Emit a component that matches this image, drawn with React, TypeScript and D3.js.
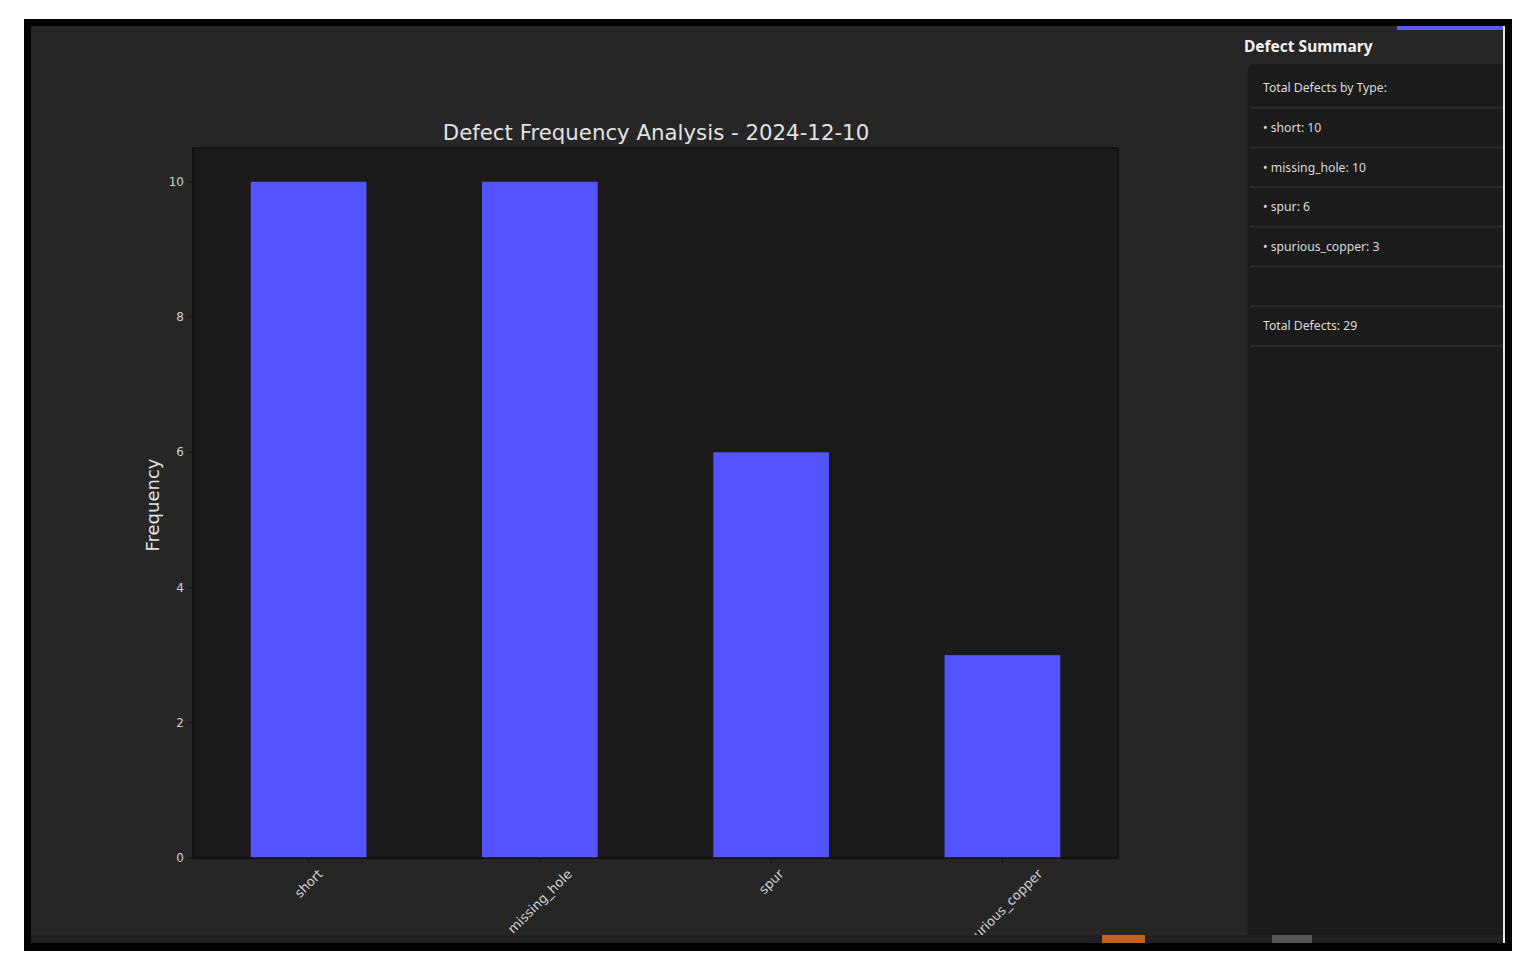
import React, { useEffect, useRef } from "react";
import * as d3 from "d3";

const categories = ["short", "missing_hole", "spur", "spurious_copper"];
const frequencies = [10, 10, 6, 3];
const yTicks = [0, 2, 4, 6, 8, 10];
const chartTitle = "Defect Frequency Analysis - 2024-12-10";
const yLabel = "Frequency";
const summaryTitle = "Defect Summary";
const summaryRows = [
  "Total Defects by Type:",
  "• short: 10",
  "• missing_hole: 10",
  "• spur: 6",
  "• spurious_copper: 3",
  "",
  "Total Defects: 29",
];

const W = 1535;
const H = 974;

export default function App() {
  const ref = useRef<SVGSVGElement | null>(null);

  useEffect(() => {
    const svg = d3.select(ref.current);
    svg.selectAll("*").remove();

    // page background
    svg.append("rect").attr("width", W).attr("height", H).attr("fill", "#ffffff");
    // outer black frame
    svg.append("rect").attr("x", 24).attr("y", 19).attr("width", 1488).attr("height", 932).attr("fill", "#000");
    // app background
    svg.append("rect").attr("x", 31).attr("y", 26).attr("width", 1472).attr("height", 917).attr("fill", "#262626");
    svg.append("rect").attr("x", 1503).attr("y", 26).attr("width", 2).attr("height", 917).attr("fill", "#e6e6e6");

    const clipId = "mainclip";
    svg.append("clipPath").attr("id", clipId)
      .append("rect").attr("x", 31).attr("y", 26).attr("width", 1215).attr("height", 909);
    const main = svg.append("g").attr("clip-path", `url(#${clipId})`);

    const left = 193, right = 1118, top = 148, bottom = 858;
    const x = d3.scaleBand<string>().domain(categories).range([left, right]).paddingInner(0.5).paddingOuter(0.25);
    const y = d3.scaleLinear().domain([0, 10.5]).range([bottom, top]);

    main.append("rect").attr("x", left).attr("y", top).attr("width", right - left).attr("height", bottom - top)
      .attr("fill", "#1a1a1a");

    main.selectAll("rect.bar").data(categories).enter().append("rect")
      .attr("class", "bar")
      .attr("x", (d) => x(d)!)
      .attr("y", (_d, i) => y(frequencies[i]))
      .attr("width", x.bandwidth())
      .attr("height", (_d, i) => y(0) - y(frequencies[i]))
      .attr("fill", "#5353ff");

    main.append("rect").attr("x", left).attr("y", top).attr("width", right - left).attr("height", bottom - top)
      .attr("fill", "none").attr("stroke", "#0e0e0e").attr("stroke-width", 1.5);

    const font = "'DejaVu Sans', sans-serif";

    // y ticks
    const yg = main.append("g");
    yTicks.forEach((t) => {
      yg.append("line").attr("x1", left - 5).attr("x2", left).attr("y1", y(t)).attr("y2", y(t))
        .attr("stroke", "#111").attr("stroke-width", 1);
      yg.append("text").attr("x", left - 9).attr("y", y(t)).attr("dy", "0.35em")
        .attr("text-anchor", "end").attr("font-family", font).attr("font-size", 12)
        .attr("fill", "#d0d0d0").text(String(t));
    });

    // x ticks with rotated labels (45°, bbox centred on tick)
    const xg = main.append("g");
    categories.forEach((c) => {
      const cx = x(c)! + x.bandwidth() / 2;
      xg.append("line").attr("x1", cx).attr("x2", cx).attr("y1", bottom).attr("y2", bottom + 5)
        .attr("stroke", "#111").attr("stroke-width", 1);
      const t = xg.append("text").attr("font-family", font).attr("font-size", 13)
        .attr("fill", "#d0d0d0").attr("text-anchor", "middle").attr("dominant-baseline", "central")
        .text(c);
      const L = (t.node() as SVGTextElement).getComputedTextLength();
      const hgt = 13;
      const box = (L + hgt) * Math.SQRT1_2;
      t.attr("transform", `translate(${cx},${bottom + 9 + box / 2}) rotate(-45)`);
    });

    // title
    main.append("text").attr("x", 656).attr("y", 140).attr("text-anchor", "middle")
      .attr("font-family", font).attr("font-size", 21.3).attr("fill", "#e2e2e2").text(chartTitle);

    // y label
    main.append("text").attr("transform", `translate(159,${505}) rotate(-90)`)
      .attr("text-anchor", "middle").attr("font-family", font).attr("font-size", 18)
      .attr("fill", "#e2e2e2").text(yLabel);

    // bottom strip
    svg.append("rect").attr("x", 31).attr("y", 935).attr("width", 1472).attr("height", 8).attr("fill", "#202020");
    svg.append("rect").attr("x", 1102).attr("y", 935).attr("width", 43).attr("height", 8).attr("fill", "#c4611e");
    svg.append("rect").attr("x", 1272).attr("y", 935).attr("width", 40).attr("height", 8).attr("fill", "#555555");

    // right summary panel
    const pfont = "'Noto Sans', 'Open Sans', sans-serif";
    svg.append("rect").attr("x", 1397).attr("y", 26).attr("width", 106).attr("height", 4).attr("fill", "#5a5af0");
    svg.append("text").attr("x", 1244).attr("y", 52).attr("font-family", pfont).attr("font-weight", "bold")
      .attr("font-size", 15.5).attr("fill", "#f2f2f2").text(summaryTitle);

    svg.append("path")
      .attr("d", "M1248,935 L1248,70 Q1248,64 1254,64 L1503,64 L1503,935 Z")
      .attr("fill", "#1b1b1b");
    svg.append("line").attr("x1", 1247).attr("x2", 1247).attr("y1", 70).attr("y2", 935)
      .attr("stroke", "#202020").attr("stroke-width", 1);

    const rowTop = 68;
    const rowH = 39.7;
    summaryRows.forEach((r, i) => {
      const cy = rowTop + i * rowH + 20;
      svg.append("text").attr("x", 1263).attr("y", cy).attr("dy", "0.35em")
        .attr("font-family", pfont).attr("font-size", 12.2).attr("fill", "#dcdcdc").text(r);
      svg.append("rect").attr("x", 1250).attr("y", rowTop + (i + 1) * rowH - 1).attr("width", 253).attr("height", 2)
        .attr("fill", "#2d2d2d");
    });
  }, []);

  return (
    <svg ref={ref} width={W} height={H} style={{ position: "absolute", left: 0, top: 0, display: "block" }} />
  );
}
